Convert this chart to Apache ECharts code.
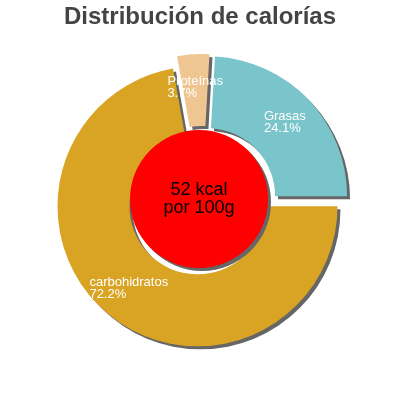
<!DOCTYPE html>
<html><head><meta charset="utf-8">
<script src="https://cdn.jsdelivr.net/npm/echarts@6/dist/echarts.min.js"></script>
<style>html,body{margin:0;padding:0;background:#fff}#c{width:400px;height:400px}</style>
</head><body><div id="c"></div>
<script>
var categories = ['Grasas', 'carbohidratos', 'Proteínas'];
var percents = [24.1, 72.2, 3.7];
var colors = ['#7ac4cc', '#d9a423', '#efc591'];
var titleText = 'Distribución de calorías';
var centerText = '52 kcal\npor 100g';

var chart = echarts.init(document.getElementById('c'), null, {renderer: 'canvas'});
var data = categories.map(function (n, i) {
  return {name: n, value: percents[i], selected: true, itemStyle: {color: colors[i]}};
});
chart.setOption({
  animation: false,
  title: {text: titleText, left: 'center', top: 0,
    textStyle: {fontFamily: 'Liberation Sans', fontSize: 24, fontWeight: 'bold', color: '#444'}},
  series: [{
    type: 'pie', center: [202, 201], radius: [68, 140], startAngle: percents[0] * 3.6, clockwise: true,
    selectedMode: 'multiple', selectedOffset: 7, silent: true,
    itemStyle: {shadowColor: '#666', shadowBlur: 0, shadowOffsetX: 3, shadowOffsetY: 3},
    label: {position: 'inside', formatter: '{t|{b}}\n{t|{c}%}',
      rich: {t: {align: 'left', color: '#fff', fontFamily: 'Liberation Sans', fontSize: 13, lineHeight: 12}}},
    labelLine: {show: false},
    emphasis: {disabled: true},
    data: data
  }, {
    type: 'pie', center: [199, 199], radius: [0, 69], silent: true, z: 5,
    itemStyle: {color: '#ff0000', shadowColor: '#666', shadowBlur: 0, shadowOffsetX: 3, shadowOffsetY: 3},
    label: {position: 'center', formatter: centerText, color: '#000', fontFamily: 'Liberation Sans', fontSize: 18, lineHeight: 18},
    labelLine: {show: false},
    emphasis: {disabled: true},
    data: [{name: 'center', value: 1}]
  }]
});
</script></body></html>
